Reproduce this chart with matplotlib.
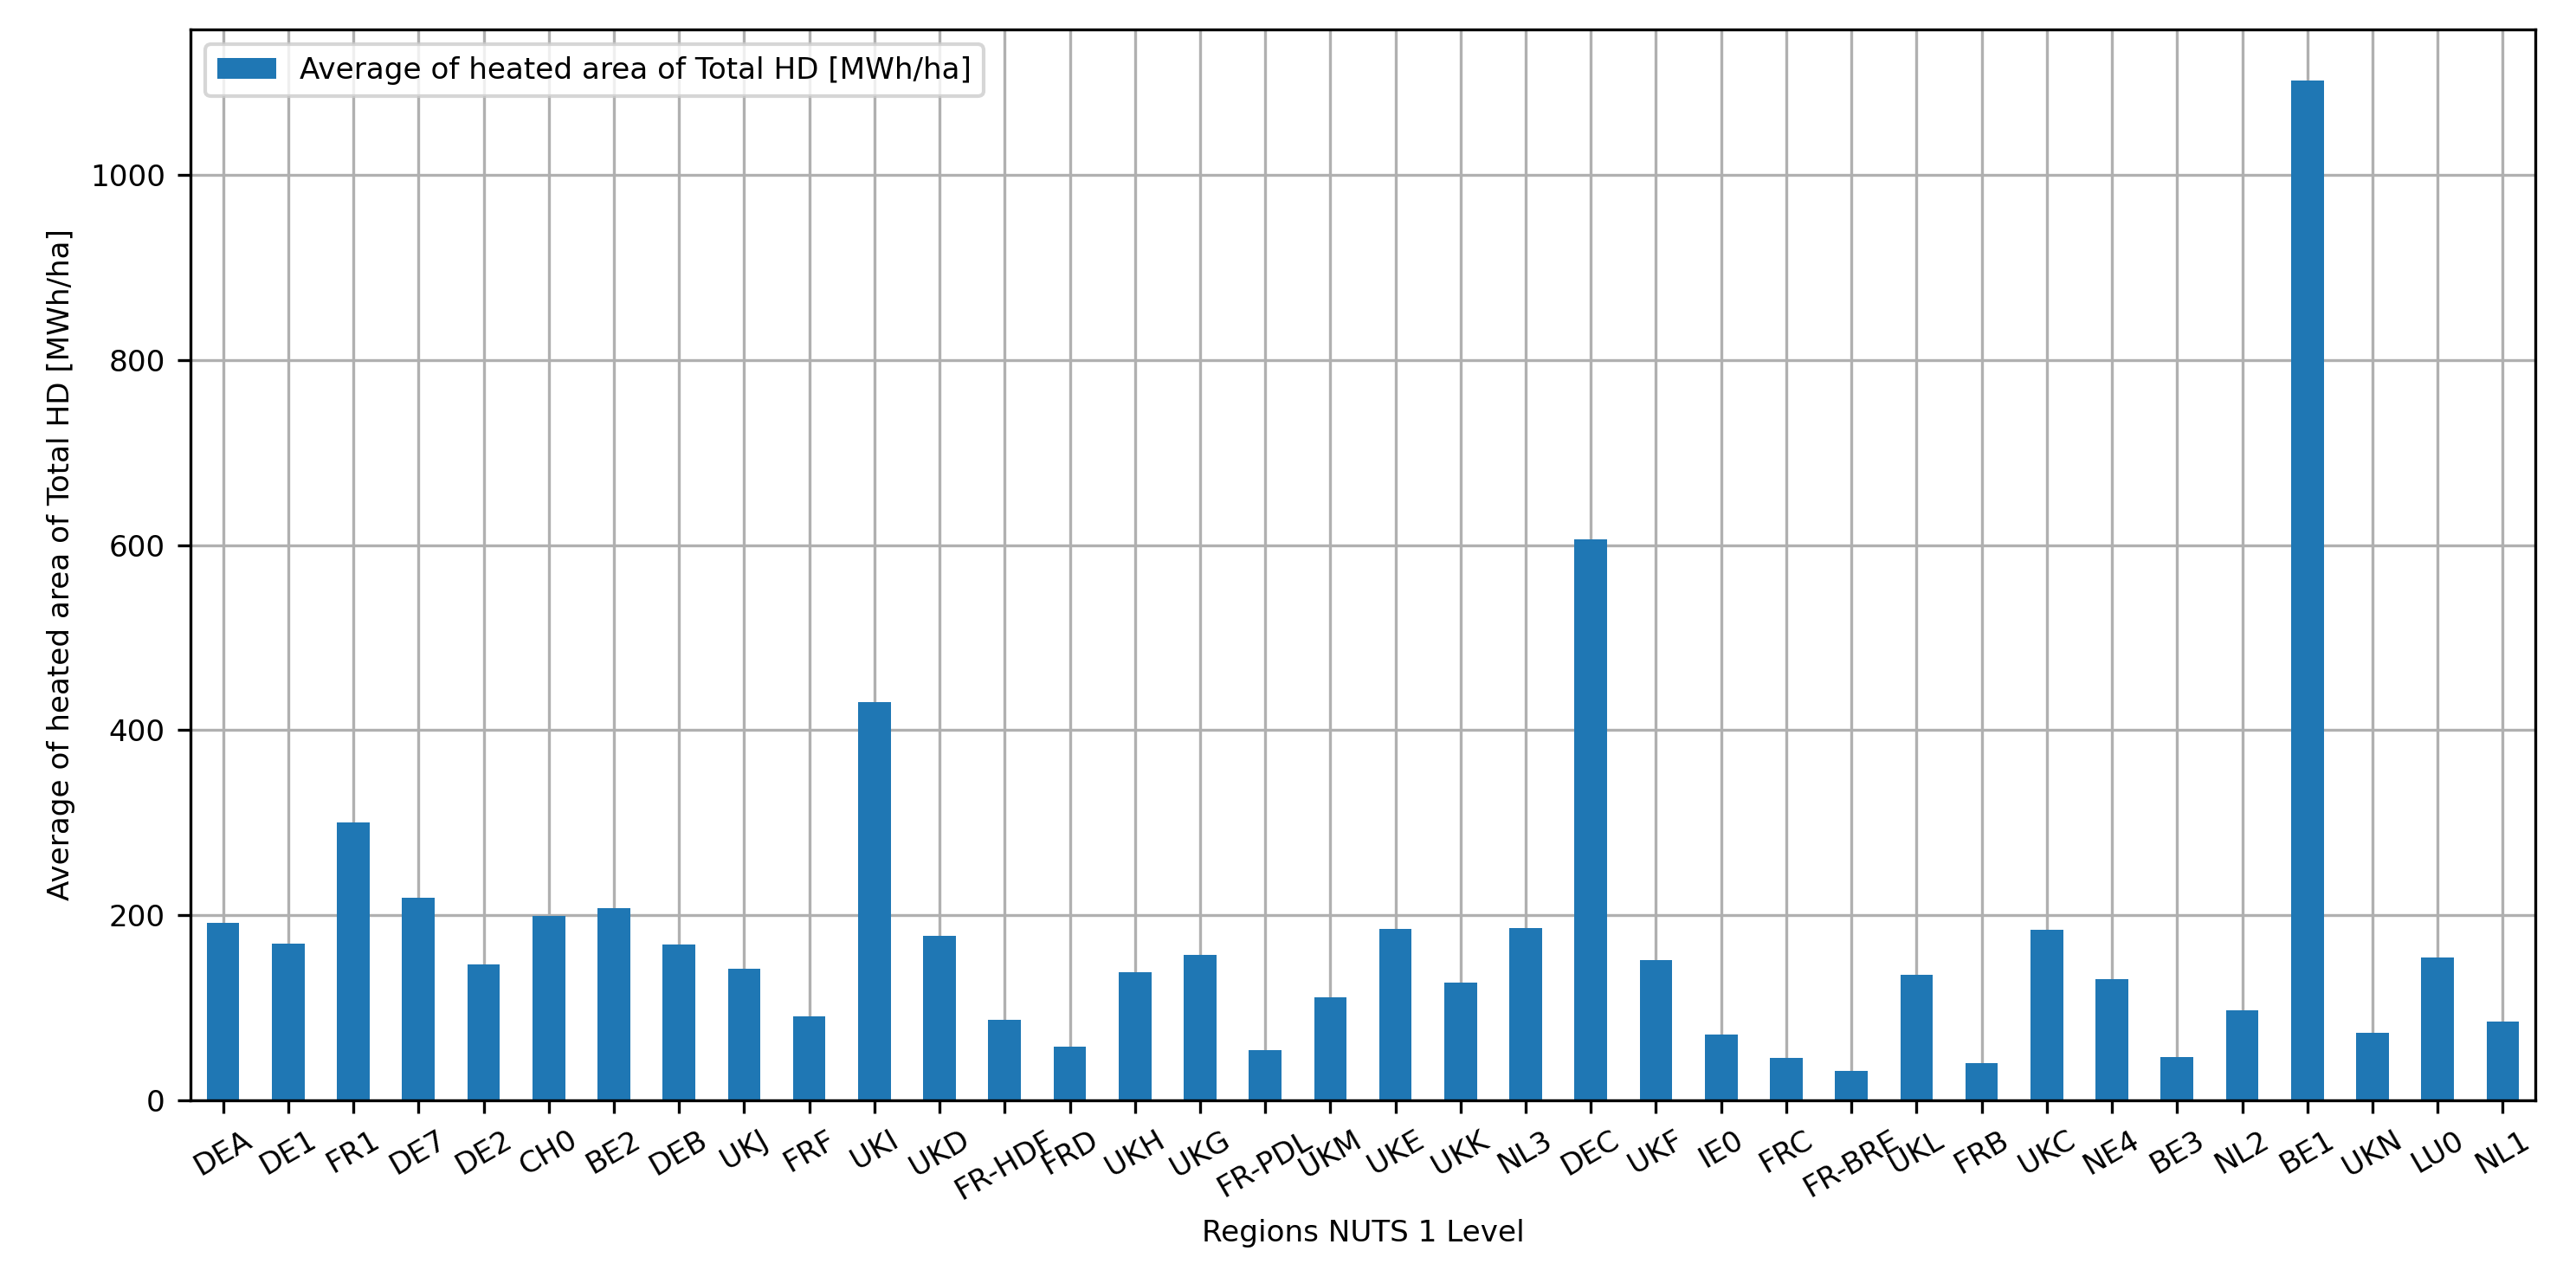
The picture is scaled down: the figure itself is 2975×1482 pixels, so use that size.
import matplotlib
matplotlib.use("Agg")
import matplotlib.pyplot as plt
import numpy as np

regions = ["DEA","DE1","FR1","DE7","DE2","CH0","BE2","DEB","UKJ","FRF","UKI","UKD","FR-HDF","FRD","UKH","UKG","FR-PDL","UKM","UKE","UKK","NL3","DEC","UKF","IE0","FRC","FR-BRE","UKL","FRB","UKC","NE4","BE3","NL2","BE1","UKN","LU0","NL1"]
values = [192,169,300,219,147,199,208,168,142,91,430,178,87,58,138,157,54,111,185,127,186,606,152,71,46,32,136,40,184,131,47,97,1102,73,154,85]

plt.rcParams['font.size'] = 8.2
fig = plt.figure(figsize=(2975/300, 1482/300), dpi=300)
ax = fig.add_axes([220/2975, 1-1271/1482, (2928-220)/2975, (1271-34)/1482])
x = np.arange(len(regions))
ax.bar(x, values, width=0.5, color="#1f77b4", label="Average of heated area of Total HD [MWh/ha]", zorder=2)
ax.set_xlim(-0.5, len(regions)-0.5)
ax.set_ylim(0, max(values)*1.05)
ax.set_xticks(x)
ax.set_xticklabels(regions, rotation=30)
ax.grid(True, color="#b0b0b0", zorder=0)
ax.set_axisbelow(True)
ax.set_xlabel("Regions NUTS 1 Level")
ax.set_ylabel("Average of heated area of Total HD [MWh/ha]")
ax.legend(loc="upper left")
fig.savefig("out.png", dpi=300)
